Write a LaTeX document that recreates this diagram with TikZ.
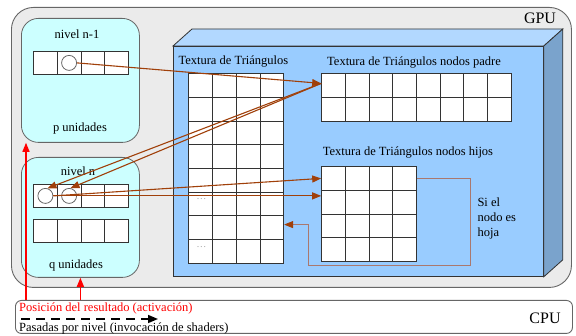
\documentclass[tikz,border=0pt]{standalone}
\usepackage{fontspec}
\setmainfont{Liberation Serif}
\usetikzlibrary{arrows.meta, positioning, calc, matrix}
\definecolor{gpugray}{RGB}{235,235,235}
\definecolor{edgegray}{RGB}{102,102,102}
\definecolor{levelcyan}{RGB}{204,255,255}
\definecolor{texblue}{RGB}{153,204,255}
\definecolor{textop}{RGB}{178,216,255}
\definecolor{texside}{RGB}{122,163,204}
\definecolor{arrowbrown}{RGB}{160,64,10}
\definecolor{loopbrown}{RGB}{170,120,110}

\begin{document}
\begin{tikzpicture}[x=1pt, y=-1pt,
    every node/.style={font=\rmfamily\fontsize{12.5}{15}\selectfont},
    gridcell/.style={draw=black!80, fill=white, minimum width=23pt, minimum height=23pt, inner sep=0pt, line width=0.7pt},
    gridtable/.style={matrix of nodes, nodes in empty cells, nodes={gridcell}, row sep=-0.7pt, column sep=-0.7pt, ampersand replacement=\&, anchor=north west, inner sep=0pt},
    levelbox/.style={draw=edgegray, fill=levelcyan, rounded corners=17pt, line width=0.8pt, inner sep=0pt, minimum width=118pt, anchor=north west},
    slot/.style={circle, draw=edgegray, fill=white, minimum size=15pt, inner sep=0pt, line width=0.8pt},
    feedarrow/.style={-{Triangle[length=9pt, width=7pt]}, arrowbrown, line width=1.1pt},
    redarrow/.style={-{Triangle[length=9pt, width=7pt]}, red, line width=1.3pt},
    bigtxt/.style={font=\rmfamily\fontsize{16}{18}\selectfont}
]
    \useasboundingbox (0,0) rectangle (576,336);

    % GPU container
    \node[draw=edgegray, fill=gpugray, rounded corners=22pt, line width=0.9pt, minimum width=560pt, minimum height=280pt, inner sep=0pt, anchor=north west] (gpu) at (11,7) {};
    \node[bigtxt] (gpulabel) at (540,18) {GPU};

    % Texture block (3D box)
    \node[draw=black!80, fill=texblue, line width=0.8pt, minimum width=370pt, minimum height=230pt, inner sep=0pt, anchor=north west] (front) at (173,46) {};
    \filldraw[fill=textop, draw=black!80, line width=0.8pt] (front.north west) -- ++(19,-17) -- ($(front.north east)+(19,-17)$) -- (front.north east) -- cycle;
    \filldraw[fill=texside, draw=black!80, line width=0.8pt] (front.north east) -- ++(19,-17) -- ($(front.south east)+(19,-17)$) -- (front.south east) -- cycle;

    % Triangle texture
    \node[anchor=west] (tritxt) at (175,62) {Textura de Triángulos};
    \matrix[gridtable, nodes={minimum width=23.8pt, minimum height=23.7pt}] (tri) at (188,73) {
        \& \& \& \\
        \& \& \& \\
        \& \& \& \\
        \& \& \& \\
        \& \& \& \\
        \& \& \& \\
        \& \& \& \\
        \& \& \& \\
    };
    \node[text=black!55, font=\footnotesize, inner sep=0pt] (dotsa) at ([xshift=1pt, yshift=-7pt]tri-5-1.south) {.\,.\,.};
    \node[text=black!55, font=\footnotesize, inner sep=0pt] (dotsb) at ([xshift=1pt, yshift=-7pt]tri-7-1.south) {.\,.\,.};

    % Parent nodes texture
    \node (padretxt) at (414,63) {Textura de Triángulos nodos padre};
    \matrix[gridtable, nodes={minimum width=23.7pt, minimum height=23.7pt}] (padre) at (321,73) {
        \& \& \& \& \& \& \& \\
        \& \& \& \& \& \& \& \\
    };

    % Child nodes texture
    \node (hijostxt) at (408,153) {Textura de Triángulos nodos hijos};
    \matrix[gridtable, nodes={minimum width=23.7pt, minimum height=23.7pt}] (hijos) at (321,166) {
        \& \& \& \\
        \& \& \& \\
        \& \& \& \\
        \& \& \& \\
    };
    \node[anchor=west, align=left] (leafnote) at (474,218) {Si el\\nodo es\\hoja};

    % Leaf loop back to triangle texture
    \coordinate (loopa) at (470,265);
    \coordinate (loopb) at (308,265);
    \draw[loopbrown, line width=0.9pt, -{Triangle[length=9pt, width=7pt, color=arrowbrown]}]
        (hijos-1-4.east) -| (loopa) -- (loopb) |- ([yshift=3pt]tri-7-4.east);

    % Level n-1
    \node[levelbox, minimum height=124pt] (upper) at (21,18) {};
    \node (uppertitle) at (77,34) {nivel n-1};
    \node (uppercount) at (80,128) {p unidades};
    \matrix[gridtable, nodes={minimum width=23.7pt, minimum height=22.7pt}] (prev) at (33,51) {
        \& \& \& \\
    };
    \node[slot] (c0) at (prev-1-2) {};

    % Level n
    \node[levelbox, minimum height=120pt] (lower) at (21,157) {};
    \node (lowertitle) at (78,171) {nivel n};
    \node (lowercount) at (76,265) {q unidades};
    \matrix[gridtable, nodes={minimum width=23.7pt, minimum height=22.7pt}] (cur) at (33,184) {
        \& \& \& \\
    };
    \matrix[gridtable, nodes={minimum width=23.7pt, minimum height=22.7pt}] (spare) at (33,219) {
        \& \& \& \\
    };
    \node[slot] (c1) at (cur-1-1) {};
    \node[slot] (c2) at (cur-1-2) {};

    % Data flow
    \coordinate (padin) at ([yshift=2pt]padre-1-1.west);
    \draw[feedarrow] (c0.east) -- (padin);
    \draw[feedarrow] (padin) -- (c1.75);
    \draw[feedarrow] (padin) -- (c2.80);
    \draw[feedarrow] (c1.east) -- (hijos-1-1.west);
    \draw[feedarrow] (c1.east) -- (c1.east -| hijos-1-1.west);

    % CPU
    \node[draw=edgegray, fill=white, rounded corners=6pt, line width=0.9pt, minimum width=557pt, minimum height=33pt, inner sep=0pt, anchor=north west] (cpu) at (15,300) {};
    \node[bigtxt] (cpulabel) at (545,318) {CPU};
    \node[anchor=base west, text=red, inner sep=0pt] (postxt) at (19,312) {Posición del resultado (activación)};
    \node[anchor=base west, inner sep=0pt] (passtxt) at (19,332) {Pasadas por nivel (invocación de shaders)};
    \coordinate (dashstart) at (21,319);
    \coordinate (dashend) at (158,319);
    \draw[-{Triangle[length=10pt, width=8pt]}, line width=1.6pt, dash pattern=on 9pt off 6pt] (dashstart) -- (dashend);

    % Result position
    \draw[redarrow] ([xshift=11pt]cpu.north west) -- ([xshift=11pt]cpu.north west |- upper.south);
    \draw[redarrow] (cpu.north -| lower.south) -- (lower.south);

\end{tikzpicture}
\end{document}
